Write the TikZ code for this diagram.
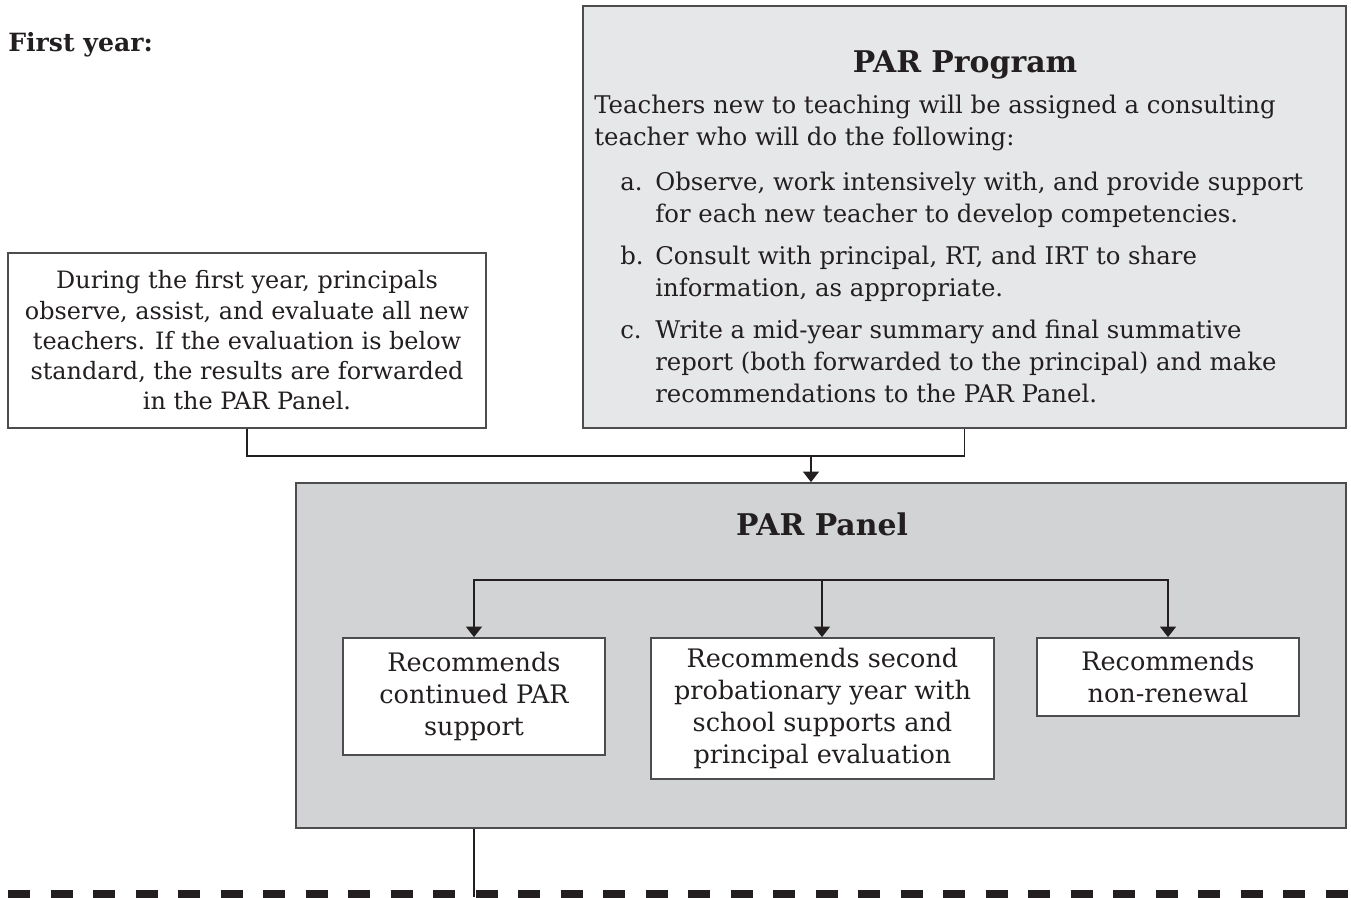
\documentclass[tikz,border=0pt]{standalone}
\usepackage{fontspec}
\setmainfont{DejaVu Serif}
\usetikzlibrary{arrows.meta}

\definecolor{programgray}{HTML}{E6E7E8}
\definecolor{panelgray}{HTML}{D1D3D4}
\definecolor{edgegray}{HTML}{4D4D4F}
\definecolor{inkblack}{HTML}{231F20}

\begin{document}
\begin{tikzpicture}[
		>={Triangle[width=0.32cm,length=0.21cm]},
		box/.style={
			rectangle,
			draw=edgegray,
			line width=1pt,
			inner sep=0pt,
			text=inkblack,
			align=center
		},
		choice/.style={
			box,
			fill=white,
			font=\fontsize{14.5}{18.2}\selectfont
		},
		heading/.style={
			anchor=base,
			inner sep=0pt,
			text=inkblack,
			font=\bfseries\fontsize{17}{20}\selectfont
		},
		link/.style={
			draw=inkblack,
			line width=0.8pt
		}
		]
		\useasboundingbox (0,0) rectangle (27.02,17.94);
		
		\node[anchor=base west,
			  inner sep=0pt,
			  text=inkblack,
			  font=\bfseries\fontsize{14.3}{16}\selectfont] (firstyear) at (0.16,16.9) {First year:};
		
		\node[box,
			  fill=programgray,
			  minimum width=15.26cm,
			  minimum height=8.44cm] (program) at (19.29,13.6) {};
		\node[heading] (programtitle) at (19.3,16.48) {PAR Program};
		% anchored on the baseline of the last line
		\node[anchor=base west,
			  inner sep=0pt,
			  align=left,
			  text=inkblack,
			  font=\fontsize{13.85}{18.2}\selectfont] (programtext) at (11.88,9.9) {Teachers new to teaching will be assigned a consulting\\
			teacher who will do the following:\\[0.26cm]
			\hspace*{0.52cm}\makebox[0.7cm][l]{a.}Observe, work intensively with, and provide support\\
			\hspace*{1.22cm}for each new teacher to develop competencies.\\[0.2cm]
			\hspace*{0.52cm}\makebox[0.7cm][l]{b.}Consult with principal, RT, and IRT to share\\
			\hspace*{1.22cm}information, as appropriate.\\[0.2cm]
			\hspace*{0.52cm}\makebox[0.7cm][l]{c.}Write a mid-year summary and final summative\\
			\hspace*{1.22cm}report (both forwarded to the principal) and make\\
			\hspace*{1.22cm}recommendations to the PAR Panel.};
		
		\node[box,
			  fill=white,
			  minimum width=9.56cm,
			  minimum height=3.5cm,
			  font=\fontsize{13.6}{17.2}\selectfont] (principal) at (4.94,11.13) {During the first year, principals\\observe, assist, and evaluate all new\\teachers. If the evaluation is below\\standard, the results are forwarded\\in the PAR Panel.};
		
		\node[box,
			  fill=panelgray,
			  minimum width=21cm,
			  minimum height=6.9cm] (panel) at (16.42,4.83) {};
		\node[heading] (paneltitle) at (16.44,7.24) {PAR Panel};
		
		\node[choice, minimum width=5.24cm, minimum height=2.34cm] (continued) at (9.48,4.01) {Recommends\\continued PAR\\support};
		\node[choice, minimum width=6.86cm, minimum height=2.82cm] (second) at (16.45,3.77) {Recommends second\\probationary year with\\school supports and\\principal evaluation};
		\node[choice, minimum width=5.24cm, minimum height=1.56cm] (nonrenewal) at (23.36,4.4) {Recommends\\non-renewal};
		
		\coordinate (join) at (16.22,8.82);
		\coordinate (branch) at (16.44,6.34);
		\coordinate (dashstart) at (0.16,0.04);
		\coordinate (dashend) at (27.1,0.04);
		\coordinate (exit) at (9.48,0);
		
		\draw[link] (principal.south) |- (join) -| (program.south);
		\draw[link,->] (join) -- (join |- panel.north);
		\draw[link,->] (branch) -| (continued.north);
		\draw[link,->] (branch) -- (branch |- second.north);
		\draw[link,->] (branch) -| (nonrenewal.north);
		
		\draw[inkblack,line width=0.2cm,dash pattern=on 0.44cm off 0.41cm] (dashstart) -- (dashend);
		\draw[link] (continued |- panel.south) -- (exit);
		\end{tikzpicture}
\end{document}
